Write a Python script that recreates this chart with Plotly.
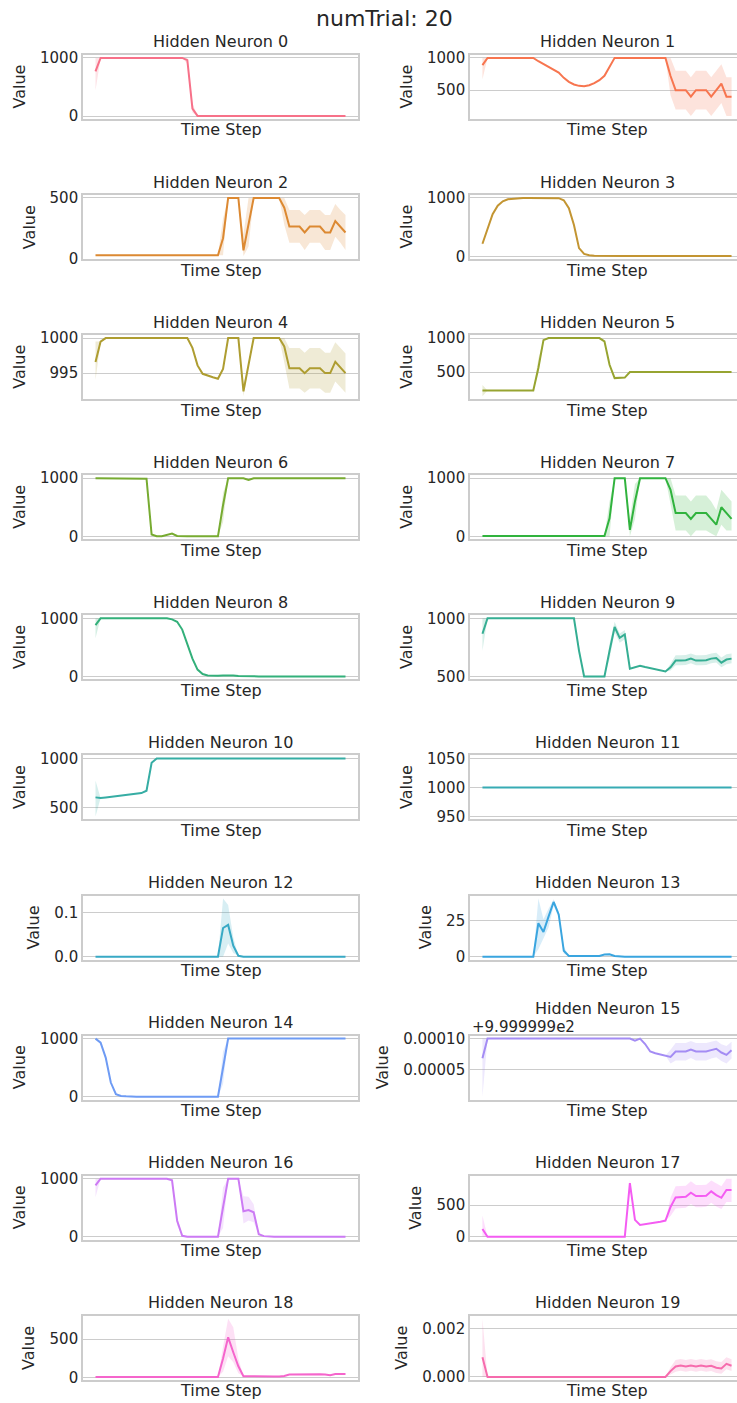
import math
import plotly.graph_objects as go

# ---------------- data ----------------
TIME_STEPS = list(range(50))
SUPTITLE = "numTrial: 20"
X_LABEL = "Time Step"
Y_LABEL = "Value"
TITLES = [f"Hidden Neuron {k}" for k in range(20)]

neuron_0 = [770, 1000, 1000, 1000, 1000, 1000, 1000, 1000, 1000, 1000,
            1000, 1000, 1000, 1000, 1000, 1000, 1000, 1000, 960, 130,
            5, 3, 3, 3, 3, 3, 3, 3, 3, 3,
            3, 3, 3, 3, 3, 3, 3, 3, 3, 3,
            3, 3, 3, 3, 3, 3, 3, 3, 3, 3]
band_0 = {0: (440, 1000), 18: (900, 1000), 19: (60, 220)}

neuron_1 = [887, 1000, 1000, 1000, 1000, 1000, 1000, 1000, 1000, 1000,
            1000, 948, 902, 861, 809, 773, 691, 629, 588, 567,
            562, 577, 608, 655, 722, 856, 1000, 1000, 1000, 1000,
            1000, 1000, 1000, 1000, 1000, 1000, 1000, 720, 500, 500,
            500, 400, 500, 500, 500, 400, 500, 600, 400, 400]
band_1 = {0: (670, 1000), 37: (420, 1000), 38: (200, 800), 39: (200, 800), 40: (200, 800),
          41: (100, 700), 42: (200, 800), 43: (200, 800), 44: (200, 800), 45: (100, 700),
          46: (200, 800), 47: (300, 900), 48: (100, 700), 49: (100, 700)}

neuron_2 = [27, 27, 27, 27, 27, 27, 27, 27, 27, 27,
            27, 27, 27, 27, 27, 27, 27, 27, 27, 27,
            27, 27, 27, 27, 27, 168, 500, 500, 500, 68,
            280, 500, 500, 500, 500, 500, 500, 420, 264, 264,
            264, 215, 264, 264, 264, 215, 215, 310, 264, 215]
band_2 = {25: (30, 330), 29: (20, 200), 30: (100, 500), 37: (280, 500),
          38: (130, 400), 39: (130, 400), 40: (130, 400), 41: (70, 360), 42: (130, 400),
          43: (130, 400), 44: (130, 400), 45: (70, 360), 46: (70, 360), 47: (180, 450),
          48: (130, 400), 49: (70, 360)}

neuron_3 = [215, 477, 721, 866, 942, 977, 988, 994, 998, 998,
            998, 998, 998, 998, 998, 995, 960, 825, 535, 140,
            40, 17, 10, 7, 5, 3, 3, 3, 3, 3,
            3, 3, 3, 3, 3, 3, 3, 3, 3, 3,
            3, 3, 3, 3, 3, 3, 3, 3, 3, 3]
band_3 = {0: (190, 240)}

neuron_4 = [996.6, 999.5, 1000, 1000, 1000, 1000, 1000, 1000, 1000, 1000,
            1000, 1000, 1000, 1000, 1000, 1000, 1000, 1000, 1000, 998.6,
            996.1, 994.9, 994.6, 994.4, 994.2, 995.6, 1000, 1000, 1000, 992.4,
            996.0, 1000, 1000, 1000, 1000, 1000, 1000, 998.8, 995.7, 995.7,
            995.7, 995.0, 995.7, 995.7, 995.7, 995.0, 995.0, 996.6, 995.8, 995.0]
band_4 = {0: (994.0, 999.5), 29: (991.7, 993.5), 37: (996.5, 1000),
          38: (992.8, 998.6), 39: (992.8, 998.6), 40: (992.8, 998.6), 41: (992.2, 997.9),
          42: (992.8, 998.6), 43: (992.8, 998.6), 44: (992.8, 998.6), 45: (992.2, 997.9),
          46: (992.2, 997.9), 47: (993.8, 999.4), 48: (993.0, 998.6), 49: (992.2, 997.8)}

neuron_5 = [230, 230, 230, 230, 230, 230, 230, 230, 230, 230,
            230, 560, 970, 1000, 1000, 1000, 1000, 1000, 1000, 1000,
            1000, 1000, 1000, 1000, 951, 608, 412, 412, 420, 500,
            500, 500, 500, 500, 500, 500, 500, 500, 500, 500,
            500, 500, 500, 500, 500, 500, 500, 500, 500, 500]
band_5 = {0: (146, 310), 11: (480, 700)}

neuron_6 = [1000, 1000, 1000, 1000, 1000, 1000, 1000, 1000, 1000, 1000,
            990, 40, 11, 11, 28, 57, 17, 10, 10, 10,
            10, 10, 10, 10, 10, 540, 1000, 1000, 1000, 1000,
            970, 1000, 1000, 1000, 1000, 1000, 1000, 1000, 1000, 1000,
            1000, 1000, 1000, 1000, 1000, 1000, 1000, 1000, 1000, 1000]
band_6 = {25: (250, 750), 30: (955, 985)}

neuron_7 = [5, 5, 5, 5, 5, 5, 5, 5, 5, 5,
            5, 5, 12, 12, 5, 5, 5, 5, 5, 5,
            5, 5, 5, 5, 5, 310, 1000, 1000, 1000, 110,
            600, 1000, 1000, 1000, 1000, 1000, 1000, 800, 400, 400,
            400, 300, 400, 400, 400, 300, 200, 500, 400, 300]
band_7 = {25: (0, 600), 29: (0, 300), 30: (300, 900), 37: (550, 1000),
          38: (100, 700), 39: (100, 700), 40: (100, 700), 41: (0, 600), 42: (100, 700),
          43: (100, 700), 44: (100, 700), 45: (50, 600), 46: (0, 450), 47: (200, 800),
          48: (100, 700), 49: (100, 600)}

neuron_8 = [883, 1000, 1000, 1000, 1000, 1000, 1000, 1000, 1000, 1000,
            1000, 1000, 1000, 1000, 1000, 982, 941, 807, 573, 310,
            123, 47, 23, 18, 18, 23, 29, 23, 15, 10,
            6, 6, 6, 6, 6, 6, 6, 6, 6, 6,
            6, 6, 6, 6, 6, 6, 6, 6, 6, 6]
band_8 = {0: (660, 1000)}

neuron_9 = [867, 1000, 1000, 1000, 1000, 1000, 1000, 1000, 1000, 1000,
            1000, 1000, 1000, 1000, 1000, 1000, 1000, 1000, 1000, 720,
            500, 500, 500, 500, 500, 720, 925, 832, 861, 566,
            580, 592, 581, 572, 564, 552, 543, 578, 636, 636,
            639, 653, 636, 636, 639, 653, 659, 618, 645, 653]
band_9 = {0: (720, 1000), 19: (690, 760), 25: (650, 780), 26: (880, 970), 27: (790, 870),
          28: (820, 900), 37: (550, 610), 38: (596, 681), 39: (596, 681), 40: (599, 684),
          41: (613, 698), 42: (596, 681), 43: (596, 681), 44: (599, 684), 45: (613, 698),
          46: (619, 704), 47: (578, 663), 48: (605, 690), 49: (613, 698)}

neuron_10 = [603, 596, 602, 608, 614, 620, 626, 632, 638, 647,
             671, 955, 1000, 1000, 1000, 1000, 1000, 1000, 1000, 1000,
             1000, 1000, 1000, 1000, 1000, 1000, 1000, 1000, 1000, 1000,
             1000, 1000, 1000, 1000, 1000, 1000, 1000, 1000, 1000, 1000,
             1000, 1000, 1000, 1000, 1000, 1000, 1000, 1000, 1000, 1000]
band_10 = {0: (408, 774)}

neuron_11 = [1000, 1000, 1000, 1000, 1000, 1000, 1000, 1000, 1000, 1000,
             1000, 1000, 1000, 1000, 1000, 1000, 1000, 1000, 1000, 1000,
             1000, 1000, 1000, 1000, 1000, 1000, 1000, 1000, 1000, 1000,
             1000, 1000, 1000, 1000, 1000, 1000, 1000, 1000, 1000, 1000,
             1000, 1000, 1000, 1000, 1000, 1000, 1000, 1000, 1000, 1000]
band_11 = {}

neuron_12 = [0, 0, 0, 0, 0, 0, 0, 0, 0, 0,
             0, 0, 0, 0, 0, 0, 0, 0, 0, 0,
             0, 0, 0, 0, 0, 0.065, 0.072, 0.025, 0.002, 0,
             0, 0, 0, 0, 0, 0, 0, 0, 0, 0,
             0, 0, 0, 0, 0, 0, 0, 0, 0, 0]
band_12 = {25: (0.0, 0.132), 26: (0.03, 0.117), 27: (0.008, 0.044)}

neuron_13 = [0, 0, 0, 0, 0, 0, 0, 0, 0, 0,
             0, 23, 17, 27.5, 37.6, 29, 4, 0.5, 0.5, 0.5,
             0.5, 0.5, 0.5, 0.5, 1.5, 1.6, 0.5, 0, 0, 0,
             0, 0, 0, 0, 0, 0, 0, 0, 0, 0,
             0, 0, 0, 0, 0, 0, 0, 0, 0, 0]
band_13 = {11: (5, 40), 12: (12, 25.7), 13: (20, 33), 14: (35, 39.5), 15: (27, 31), 16: (2, 7)}

neuron_14 = [1000, 931, 674, 246, 46, 17, 11, 3, 3, 3,
             3, 3, 3, 3, 3, 3, 3, 3, 3, 3,
             3, 3, 3, 3, 3, 500, 1000, 1000, 1000, 1000,
             1000, 1000, 1000, 1000, 1000, 1000, 1000, 1000, 1000, 1000,
             1000, 1000, 1000, 1000, 1000, 1000, 1000, 1000, 1000, 1000]
band_14 = {2: (640, 710), 25: (220, 780)}

# neuron 15: values shown relative to the axis offset 999.9999
NEURON_15_OFFSET = 999.9999
NEURON_15_OFFSET_TEXT = "+9.999999e2"
neuron_15 = [6.85e-5, 1e-4, 1e-4, 1e-4, 1e-4, 1e-4, 1e-4, 1e-4, 1e-4, 1e-4,
             1e-4, 1e-4, 1e-4, 1e-4, 1e-4, 1e-4, 1e-4, 1e-4, 1e-4, 1e-4,
             1e-4, 1e-4, 1e-4, 1e-4, 1e-4, 1e-4, 1e-4, 1e-4, 1e-4, 1e-4,
             9.67e-5, 1e-4, 9.13e-5, 7.93e-5, 7.66e-5, 7.5e-5, 7.28e-5, 7.07e-5, 7.93e-5, 7.93e-5,
             7.93e-5, 8.26e-5, 7.93e-5, 7.93e-5, 7.93e-5, 8.15e-5, 8.37e-5, 7.77e-5, 7.39e-5, 8.15e-5]
band_15 = {0: (0.7e-5, 1e-4), 37: (6.0e-5, 8.2e-5),
           38: (6.5e-5, 9.3e-5), 39: (6.5e-5, 9.3e-5), 40: (6.5e-5, 9.3e-5), 41: (6.9e-5, 9.6e-5),
           42: (6.5e-5, 9.3e-5), 43: (6.5e-5, 9.3e-5), 44: (6.5e-5, 9.3e-5), 45: (6.8e-5, 9.5e-5),
           46: (7.0e-5, 9.7e-5), 47: (6.4e-5, 9.1e-5), 48: (6.0e-5, 8.8e-5), 49: (6.8e-5, 9.5e-5)}

neuron_16 = [884, 1000, 1000, 1000, 1000, 1000, 1000, 1000, 1000, 1000,
             1000, 1000, 1000, 1000, 1000, 971, 277, 17, 0, 0,
             0, 0, 0, 0, 0, 508, 1000, 1000, 1000, 439,
             462, 422, 46, 12, 0, 0, 0, 0, 0, 0,
             0, 0, 0, 0, 0, 0, 0, 0, 0, 0]
band_16 = {0: (680, 1000), 16: (200, 350), 25: (150, 850), 29: (230, 700),
           30: (280, 690), 31: (250, 560)}

neuron_17 = [124, 0, 0, 0, 0, 0, 0, 0, 0, 0,
             0, 0, 0, 0, 0, 0, 0, 0, 0, 0,
             0, 0, 0, 0, 0, 0, 0, 0, 0, 850,
             269, 188, 200, 210, 225, 240, 258, 473, 624, 624,
             634, 699, 645, 645, 650, 720, 661, 618, 742, 742]
band_17 = {0: (0, 339), 29: (780, 903), 37: (330, 620),
           38: (450, 800), 39: (450, 800), 40: (460, 810), 41: (520, 880), 42: (470, 820),
           43: (470, 820), 44: (475, 825), 45: (540, 890), 46: (480, 840), 47: (440, 800),
           48: (550, 920), 49: (550, 920)}

neuron_18 = [13, 13, 13, 13, 13, 13, 13, 13, 13, 13,
             13, 13, 13, 13, 13, 13, 13, 13, 13, 13,
             13, 13, 13, 13, 13, 250, 522, 330, 150, 22,
             20, 20, 20, 20, 20, 20, 20, 25, 43, 45,
             45, 48, 45, 45, 48, 45, 35, 50, 48, 50]
band_18 = {25: (80, 400), 26: (280, 760), 27: (200, 650), 28: (60, 250)}

neuron_19 = [0.00081, 0, 0, 0, 0, 0, 0, 0, 0, 0,
             0, 0, 0, 0, 0, 0, 0, 0, 0, 0,
             0, 0, 0, 0, 0, 0, 0, 0, 0, 0,
             0, 0, 0, 0, 0, 0, 0, 0.00024, 0.00043, 0.00047,
             0.00043, 0.00047, 0.00043, 0.00047, 0.00043, 0.00046, 0.00038, 0.00035, 0.00054, 0.00046]
band_19 = {0: (0, 0.0024), 37: (0.0001, 0.0004),
           38: (0.00021, 0.0007), 39: (0.00025, 0.00074), 40: (0.00021, 0.0007), 41: (0.00025, 0.00074),
           42: (0.00021, 0.0007), 43: (0.00025, 0.00074), 44: (0.00021, 0.0007), 45: (0.00024, 0.00073),
           46: (0.00016, 0.00065), 47: (0.00013, 0.00062), 48: (0.00032, 0.00081), 49: (0.00024, 0.00073)}

yticks = [
    [0, 1000], [500, 1000], [0, 500], [0, 1000], [995, 1000], [500, 1000],
    [0, 1000], [0, 1000], [0, 1000], [500, 1000], [500, 1000], [950, 1000, 1050],
    [0.0, 0.1], [0, 25], [0, 1000], [5e-5, 1e-4], [0, 1000], [0, 500], [0, 500], [0, 0.002],
]
ytick_labels = {
    12: ["0.0", "0.1"],
    15: ["0.00005", "0.00010"],
    19: ["0.000", "0.002"],
}

NEURONS = [neuron_0, neuron_1, neuron_2, neuron_3, neuron_4, neuron_5, neuron_6, neuron_7,
           neuron_8, neuron_9, neuron_10, neuron_11, neuron_12, neuron_13, neuron_14,
           neuron_15, neuron_16, neuron_17, neuron_18, neuron_19]
BANDS = [band_0, band_1, band_2, band_3, band_4, band_5, band_6, band_7, band_8, band_9,
         band_10, band_11, band_12, band_13, band_14, band_15, band_16, band_17, band_18, band_19]

# ---------------- palette (seaborn husl) ----------------
_M = [[3.2406, -1.5372, -0.4986], [-0.9689, 1.8758, 0.0415], [0.0557, -0.2040, 1.0570]]
_refU, _refV = 0.19784, 0.46834


def _max_chroma(L, H):
    hrad = math.radians(H)
    sinH, cosH = math.sin(hrad), math.cos(hrad)
    sub1 = (L + 16) ** 3 / 1560896.0
    sub2 = sub1 if sub1 > 0.008856 else L / 903.3
    result = float("inf")
    for m1, m2, m3 in _M:
        top = (0.99915 * m1 + 1.05122 * m2 + 1.14460 * m3) * sub2
        rbottom = 0.86330 * m3 - 0.17266 * m2
        lbottom = 0.12949 * m3 - 0.38848 * m1
        bottom = (rbottom * sinH + lbottom * cosH) * sub2
        for t in (0.0, 1.0):
            C = L * (top - 1.05122 * t) / (bottom + 0.17266 * sinH * t)
            if 0.0 < C < result:
                result = C
    return result


def _husl_to_rgb(h, s, l):
    C = _max_chroma(l, h) / 100.0 * s
    hr = math.radians(h)
    U, V = math.cos(hr) * C, math.sin(hr) * C
    t = (l + 16.0) / 116.0
    varY = t ** 3 if t ** 3 > 0.008856 else (116.0 * t - 16.0) / 903.3
    varU = U / (13.0 * l) + _refU
    varV = V / (13.0 * l) + _refV
    Y = varY
    X = 0.0 - (9.0 * Y * varU) / ((varU - 4.0) * varV - varU * varV)
    Z = (9.0 * Y - (15.0 * varV * Y) - (varV * X)) / (3.0 * varV)
    out = []
    for row in _M:
        c = row[0] * X + row[1] * Y + row[2] * Z
        c = 12.92 * c if c <= 0.0031308 else 1.055 * c ** (1 / 2.4) - 0.055
        out.append(min(max(c, 0.0), 1.0))
    return out


def husl_palette(n, h=0.01, s=0.9, l=0.65):
    cols = []
    for i in range(n):
        hue = ((i / n) + h) % 1 * 359
        r, g, b = _husl_to_rgb(hue, s * 99, l * 99)
        cols.append((round(r * 255), round(g * 255), round(b * 255)))
    return cols


COLORS = husl_palette(20)

# ---------------- layout geometry (target pixels) ----------------
W, H = 737, 1403
COL_X = [(83, 358), (470, 744)]
ROW_TOP, ROW_H, ROW_PITCH = 53, 64, 140.2
TEXT = "#262626"
SPINE = "#cccccc"
FONT = "DejaVu Sans"
TICK_SIZE = 15
# the photographed page shows the figure slightly shifted/compressed vertically
CAL_Y0, CAL_SY = 4.0, 0.990


def px(x):
    return x / W


def py(y):
    return 1 - ((y - CAL_Y0) / CAL_SY) / H


def text_width(s, size):
    return sum((0.318 if ch in ".," else 0.636) for ch in s) * size


fig = go.Figure()
annotations = []
xmin_d, xmax_d = min(TIME_STEPS), max(TIME_STEPS)
xpad = 0.05 * (xmax_d - xmin_d)

for k in range(20):
    r, c = divmod(k, 2)
    n = k + 1
    xa = "x" if n == 1 else f"x{n}"
    ya = "y" if n == 1 else f"y{n}"
    mean = NEURONS[k]
    band = BANDS[k]
    lo = [band[i][0] if i in band else v for i, v in enumerate(mean)]
    hi = [band[i][1] if i in band else v for i, v in enumerate(mean)]
    rr, gg, bb = COLORS[k]
    col = f"rgb({rr},{gg},{bb})"
    fill = f"rgba({rr},{gg},{bb},0.2)"

    if band:
        fig.add_trace(go.Scatter(x=TIME_STEPS, y=lo, xaxis=xa, yaxis=ya, mode="lines",
                                 line=dict(width=0, color=fill), showlegend=False, hoverinfo="skip"))
        fig.add_trace(go.Scatter(x=TIME_STEPS, y=hi, xaxis=xa, yaxis=ya, mode="lines",
                                 line=dict(width=0, color=fill), fill="tonexty", fillcolor=fill,
                                 showlegend=False, hoverinfo="skip"))
    fig.add_trace(go.Scatter(x=TIME_STEPS, y=mean, xaxis=xa, yaxis=ya, mode="lines",
                             line=dict(width=2, color=col), showlegend=False))

    # y range like matplotlib autoscale with 5% margins
    dmin, dmax = min(lo + mean), max(hi + mean)
    if dmax - dmin == 0:
        dmin, dmax = dmin - 0.05 * abs(dmin), dmax + 0.05 * abs(dmax)
    span = dmax - dmin
    yr = [dmin - 0.05 * span, dmax + 0.05 * span]

    x0p, x1p = COL_X[c]
    full = x1p - x0p
    x1_vis = min(x1p, W)
    xr0 = xmin_d - xpad
    xr1 = xr0 + (xmax_d + xpad - xr0) * (x1_vis - x0p) / full
    top = ROW_TOP + r * ROW_PITCH
    bot = top + ROW_H
    clipped = x1p > W

    fig.layout[f"xaxis{n}" if n > 1 else "xaxis"] = dict(
        domain=[px(x0p), px(x1_vis)], range=[xr0, xr1], anchor=ya,
        showticklabels=False, showgrid=False, zeroline=False, ticks="",
        showline=True, mirror=True, linecolor=SPINE, linewidth=1.6)
    tv = yticks[k]
    tt = ytick_labels.get(k, [f"{v:g}" for v in tv])
    fig.layout[f"yaxis{n}" if n > 1 else "yaxis"] = dict(
        domain=[py(bot), py(top)], range=yr, anchor=xa,
        tickvals=tv, ticktext=tt, ticks="", showgrid=True, gridcolor=SPINE, gridwidth=1.3,
        zeroline=False, showline=True, mirror=(not clipped), linecolor=SPINE, linewidth=1.6,
        tickfont=dict(family=FONT, size=TICK_SIZE, color=TEXT))

    cx = (x0p + x1p) / 2
    title_gap = 27.4 if k == 15 else 13
    annotations.append(dict(text=TITLES[k], x=px(cx), y=py(top - title_gap), xref="paper", yref="paper",
                            xanchor="center", yanchor="middle", showarrow=False,
                            font=dict(family=FONT, size=16, color=TEXT)))
    annotations.append(dict(text=X_LABEL, x=px(cx), y=py(bot + 11), xref="paper", yref="paper",
                            xanchor="center", yanchor="middle", showarrow=False,
                            font=dict(family=FONT, size=16, color=TEXT)))
    tick_w = max(text_width(s, TICK_SIZE) for s in tt)
    annotations.append(dict(text=Y_LABEL, x=px(x0p - 25.3 - tick_w), y=py((top + bot) / 2),
                            xref="paper", yref="paper", xanchor="center", yanchor="middle",
                            textangle=-90, showarrow=False,
                            font=dict(family=FONT, size=16, color=TEXT)))
    if k == 15:
        annotations.append(dict(text=NEURON_15_OFFSET_TEXT, x=px(470), y=py(top - 8.4),
                                xref="paper", yref="paper", xanchor="left", yanchor="middle",
                                showarrow=False, font=dict(family=FONT, size=15, color=TEXT)))

annotations.append(dict(text=SUPTITLE, x=px(385), y=py(16.5), xref="paper", yref="paper",
                        xanchor="center", yanchor="middle", showarrow=False,
                        font=dict(family=FONT, size=22, color=TEXT)))

fig.update_layout(width=W, height=H, margin=dict(l=0, r=0, t=0, b=0),
                  paper_bgcolor="white", plot_bgcolor="white",
                  annotations=annotations, showlegend=False)

fig.write_html("out.html")
